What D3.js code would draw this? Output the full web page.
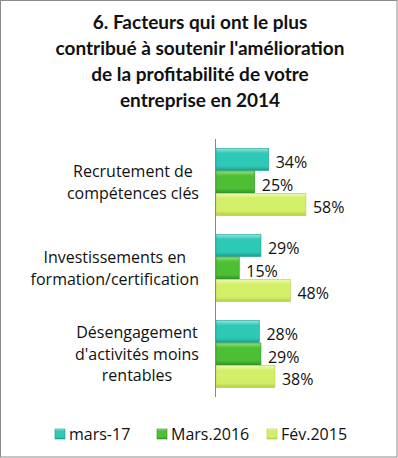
<!DOCTYPE html>
<html lang="fr">
<head>
<meta charset="UTF-8">
<script src="https://d3js.org/d3.v7.min.js"></script>
<style>
  body { margin: 0; background: #fff; }
  svg { display: block; font-family: "Open Sans", sans-serif; }
</style>
</head>
<body>
<div id="chart"></div>
<script>
// data
const categories = [
  ["Recrutement de", "compétences clés"],
  ["Investissements en", "formation/certification"],
  ["Désengagement", "d'activités moins", "rentables"]
];
const seriesNames = ["mars-17", "Mars.2016", "Fév.2015"];
const mars17 = [34, 29, 28];
const mars2016 = [25, 15, 29];
const fev2015 = [58, 48, 38];
const titleLines = [
  "6. Facteurs qui ont le plus",
  "contribué à soutenir l'amélioration",
  "de la profitabilité de votre",
  "entreprise en 2014"
];

const width = 398, height = 458;
const colors = [
  { main: "#2ec8b6", light: "#8ee8dc", dark: "#1b9e8e" },
  { main: "#4cbf35", light: "#94e07f", dark: "#33922a" },
  { main: "#d3ef68", light: "#effbb0", dark: "#b1cc45" }
];
const values = [mars17, mars2016, fev2015];

const svg = d3.select("#chart").append("svg")
  .attr("width", width).attr("height", height);

// gradients for the bevel look
const defs = svg.append("defs");
colors.forEach((c, i) => {
  const g = defs.append("linearGradient").attr("id", "g" + i)
    .attr("x1", 0).attr("y1", 0).attr("x2", 0).attr("y2", 1);
  g.append("stop").attr("offset", "0%").attr("stop-color", c.light);
  g.append("stop").attr("offset", "22%").attr("stop-color", c.main);
  g.append("stop").attr("offset", "80%").attr("stop-color", c.main);
  g.append("stop").attr("offset", "100%").attr("stop-color", c.dark);
});

// border
svg.append("rect")
  .attr("x", 0.5).attr("y", 0.5)
  .attr("width", width - 1.5).attr("height", height - 1.5)
  .attr("fill", "#fff").attr("stroke", "#8a8a8a");

// title
svg.append("g").selectAll("text")
  .data(titleLines).enter().append("text")
  .attr("x", 200)
  .attr("y", (d, i) => 29 + i * 26)
  .attr("text-anchor", "middle")
  .attr("font-family", "Lato, sans-serif")
  .attr("font-size", 19)
  .attr("font-weight", "bold")
  .attr("fill", "#111")
  .text(d => d);

// scales
const yScale = d3.scaleBand()
  .domain(d3.range(categories.length))
  .range([139, 397])
  .paddingInner(0.21)
  .paddingOuter(0.105);
const ySub = d3.scaleBand()
  .domain(d3.range(seriesNames.length))
  .range([0, yScale.bandwidth()])
  .padding(0.02);
const xScale = d3.scaleLinear().domain([0, 100]).range([216, 371]);

// bars
const groups = svg.append("g").selectAll("g")
  .data(categories).enter().append("g")
  .attr("transform", (d, i) => `translate(0,${yScale(i)})`);

groups.each(function (cat, ci) {
  const g = d3.select(this);
  values.forEach((vals, si) => {
    const v = vals[ci];
    const y = ySub(si), h = ySub.bandwidth();
    g.append("rect")
      .attr("x", xScale(0))
      .attr("y", y)
      .attr("width", xScale(v) - xScale(0))
      .attr("height", h)
      .attr("fill", `url(#g${si})`)
      .attr("stroke", colors[si].dark)
      .attr("stroke-width", 0.6);
    g.append("text")
      .attr("x", xScale(v) + 7)
      .attr("y", y + h / 2 + 9)
      .attr("font-size", 16)
      .attr("fill", "#111")
      .text(v + "%");
  });
  // category labels: lines centred, block right-aligned near the axis
  const n = cat.length, lh = 21.5;
  const cy = yScale.bandwidth() / 2;
  const labels = g.selectAll("text.cat")
    .data(cat).enter().append("text")
    .attr("class", "cat")
    .attr("y", (d, li) => cy + (li - (n - 1) / 2) * lh + 6)
    .attr("text-anchor", "middle")
    .attr("font-size", 16)
    .attr("fill", "#111")
    .text(d => d);
  let maxW = 0;
  labels.each(function () { maxW = Math.max(maxW, this.getComputedTextLength()); });
  labels.attr("x", 199 - maxW / 2);
});

// axis line
svg.append("line")
  .attr("x1", 215.5).attr("x2", 215.5)
  .attr("y1", 139).attr("y2", 397)
  .attr("stroke", "#888");

// legend
const legendX = [55, 157, 267];
const legend = svg.append("g").selectAll("g")
  .data(seriesNames).enter().append("g")
  .attr("transform", (d, i) => `translate(${legendX[i]},429)`);
legend.append("rect")
  .attr("width", 10).attr("height", 10)
  .attr("fill", (d, i) => `url(#g${i})`)
  .attr("stroke", (d, i) => colors[i].dark)
  .attr("stroke-width", 0.6);
legend.append("text")
  .attr("x", 14).attr("y", 11)
  .attr("font-size", 16)
  .attr("fill", "#111")
  .text(d => d);
</script>
</body>
</html>
